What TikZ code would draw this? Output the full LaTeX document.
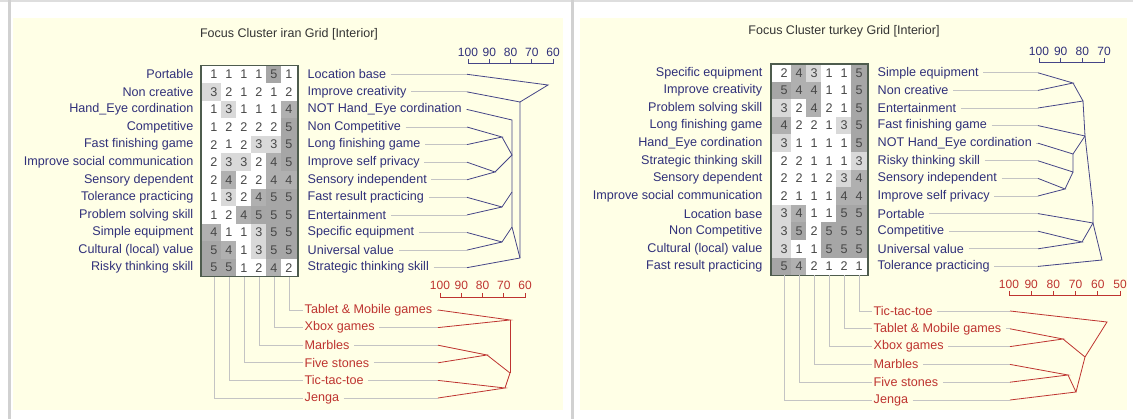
\documentclass[tikz,border=0pt]{standalone}
\usepackage{fontspec}
\setmainfont{Liberation Sans}
\usetikzlibrary{positioning}

\definecolor{cream}{RGB}{255,255,230}
\definecolor{navy}{RGB}{48,48,122}
\definecolor{brick}{RGB}{190,52,48}
\definecolor{leadgray}{RGB}{196,196,196}
\definecolor{frame}{RGB}{78,92,78}

\begin{document}
\begin{tikzpicture}[x=1pt,y=-1pt,
    every node/.append style={font=\fontsize{12.6}{14}\selectfont},
    pole/.style={text=navy,inner sep=1.5pt},
    elem/.style={text=brick,inner sep=1.5pt},
    num/.style={text=black!72,inner sep=0pt},
    lead/.style={draw=leadgray,line width=0.8pt},
    tree/.style={draw=navy!90,line width=0.8pt},
    rtree/.style={draw=brick,line width=0.8pt},
    v1/.style={fill=white}, v2/.style={fill=white}, v3/.style={fill=black!15},
    v4/.style={fill=black!31}, v5/.style={fill=black!35}]
  \tikzstyle{title} = [text=black!80,font=\fontsize{12.5}{14}\selectfont]
  \tikzstyle{scalelbl} = [inner sep=0pt,font=\fontsize{12}{14}\selectfont]

  % backdrop
  \fill[white] (0,0) rectangle (1133,419);
  \useasboundingbox (0,0) rectangle (1133,419);
  \fill[black!13] (0,0) rectangle (1133,2.5);
  \fill[black!18] (8,0) rectangle (10.5,419);
  \fill[black!18] (570.5,0) rectangle (573.5,419);
  \fill[cream] (13,18) rectangle (563,410);
  \fill[cream] (580,18) rectangle (1127,410);

  % ---------------- iran ----------------
  \node[title] (ititle) at (289,34) {Focus Cluster iran Grid [Interior]};
  \foreach \vals [count=\i] in {{1,1,1,1,5,1},{3,2,1,2,1,2},{1,3,1,1,1,4},{1,2,2,2,2,5},
      {2,1,2,3,3,5},{2,3,3,2,4,5},{2,4,2,2,4,4},{1,3,2,4,5,5},{1,2,4,5,5,5},
      {4,1,1,3,5,5},{5,4,1,3,5,5},{5,5,1,2,4,2}}
    \foreach \v [count=\j] in \vals {
      \pgfmathsetmacro\xa{\j==1 ? 201 : 206+15*(\j-1)}
      \pgfmathsetmacro\xb{\j==6 ? 298 : 206+15*\j}
      \pgfmathsetmacro\ya{65.5+17.58*(\i-1)}
      \fill[v\v] (\xa,\ya) rectangle (\xb,\ya+17.58);
      \node[num] (i-\i-\j) at (214+15*\j-15,\ya+8.79) {\v};
    }
  \draw[frame,line width=1.1pt] (201,65.5) rectangle (298,276.5);
  \foreach \txt [count=\i] in {Portable,Non creative,Hand\_Eye cordination,Competitive,
      Fast finishing game,Improve social communication,Sensory dependent,
      Tolerance practicing,Problem solving skill,Simple equipment,
      Cultural (local) value,Risky thinking skill}
    \node[pole,anchor=east] (il\i) at (195,65.5+17.58*\i-8.79) {\txt};
  \foreach \txt [count=\i] in {Location base,Improve creativity,NOT Hand\_Eye cordination,
      Non Competitive,Long finishing game,Improve self privacy,Sensory independent,
      Fast result practicing,Entertainment,Specific equipment,Universal value,
      Strategic thinking skill} {
    \node[pole,anchor=west] (ir\i) at (306,65.5+17.58*\i-8.79) {\txt};
    \coordinate (ic\i) at (467,65.5+17.58*\i-8.79);
    \draw[lead,shorten <=3pt] (ir\i.east) -- (ic\i);
  }
  \foreach \txt/\c [count=\k] in {Tablet \& Mobile games/6,Xbox games/5,Marbles/4,
      Five stones/3,Tic-tac-toe/2,Jenga/1} {
    \node[elem,anchor=west] (ie\k) at (303,310+17.6*\k-17.6) {\txt};
    \coordinate (it\k) at (214+15*\c-15,277);
    \coordinate (ix\k) at (438,310+17.6*\k-17.6);
    \draw[lead] (it\k) |- (ie\k.west);
    \draw[lead,shorten <=3pt] (ie\k.east) -- (ix\k);
  }
  % construct scale and tree
  \draw[tree] (468,59) -- (468,63) -- (553,63) -- (553,59);
  \foreach \s [count=\k] in {100,90,80,70,60} {
    \draw[tree] (468+21.25*\k-21.25,63) -- +(0,-3.5);
    \node[scalelbl,text=navy] (isc\k) at (468+21.25*\k-21.25,52) {\s};
  }
  \coordinate (ib1) at (502,137);
  \coordinate (ib2) at (495,172);
  \coordinate (ib3) at (512,155);
  \coordinate (ib4) at (502,207);
  \coordinate (ib5) at (502,242);
  \coordinate (ib6) at (512,120);
  \coordinate (ib7) at (512,192);
  \coordinate (ib8) at (512,227);
  \coordinate (ib9) at (520,102);
  \coordinate (ib10) at (520,258);
  \coordinate (ib11) at (548,85);
  \draw[tree] (ic4) -- (ib1) -- (ic5);
  \draw[tree] (ic6) -- (ib2) -- (ic7);
  \draw[tree] (ib1) -- (ib3) -- (ib2);
  \draw[tree] (ic8) -- (ib4) -- (ib7);
  \draw[tree] (ic9) -- (ib4);
  \draw[tree] (ic10) -- (ib5) -- (ib8);
  \draw[tree] (ic11) -- (ib5);
  \draw[tree] (ic3) -- (ib6) -- (ib8) -- (ib10);
  \draw[tree] (ic2) -- (ib9) -- (ib10) -- (ic12);
  \draw[tree] (ic1) -- (ib11) -- (ib9);
  % element scale and tree
  \draw[rtree] (440,293) -- (440,297) -- (525,297) -- (525,293);
  \foreach \s [count=\k] in {100,90,80,70,60} {
    \draw[rtree] (440+21.25*\k-21.25,297) -- +(0,-3.5);
    \node[scalelbl,text=brick] (iesc\k) at (440+21.25*\k-21.25,285) {\s};
  }
  \coordinate (iq1) at (510,320);
  \coordinate (iq2) at (510,373);
  \coordinate (iq3) at (487,355);
  \coordinate (iq4) at (505,388);
  \draw[rtree] (ix1) -- (iq1) -- (ix2);
  \draw[rtree] (iq1) -- (iq2);
  \draw[rtree] (ix3) -- (iq3) -- (ix4);
  \draw[rtree] (ix5) -- (iq4) -- (ix6);
  \draw[rtree] (iq3) -- (iq2) -- (iq4);

  % ---------------- turkey ----------------
  \node[title] (ttitle) at (844,31) {Focus Cluster turkey Grid [Interior]};
  \foreach \vals [count=\i] in {{2,4,3,1,1,5},{5,4,4,1,1,5},{3,2,4,2,1,5},{4,2,2,1,3,5},
      {3,1,1,1,1,5},{2,2,1,1,1,3},{2,2,1,2,3,4},{2,1,1,1,4,4},{3,4,1,1,5,5},
      {3,5,2,5,5,5},{3,1,1,5,5,5},{5,4,2,1,2,1}}
    \foreach \v [count=\j] in \vals {
      \pgfmathsetmacro\xa{\j==1 ? 771 : 776+15*(\j-1)}
      \pgfmathsetmacro\xb{\j==6 ? 868 : 776+15*\j}
      \pgfmathsetmacro\ya{64+17.6*(\i-1)}
      \fill[v\v] (\xa,\ya) rectangle (\xb,\ya+17.6);
      \node[num] (t-\i-\j) at (784+15*\j-15,\ya+8.8) {\v};
    }
  \draw[frame,line width=1.1pt] (771,64) rectangle (868,275.2);
  \foreach \txt [count=\i] in {Specific equipment,Improve creativity,Problem solving skill,
      Long finishing game,Hand\_Eye cordination,Strategic thinking skill,
      Sensory dependent,Improve social communication,Location base,
      Non Competitive,Cultural (local) value,Fast result practicing}
    \node[pole,anchor=east] (tl\i) at (764,64+17.6*\i-8.8) {\txt};
  \foreach \txt [count=\i] in {Simple equipment,Non creative,Entertainment,
      Fast finishing game,NOT Hand\_Eye cordination,Risky thinking skill,
      Sensory independent,Improve self privacy,Portable,Competitive,
      Universal value,Tolerance practicing} {
    \node[pole,anchor=west] (tr\i) at (876,64+17.6*\i-8.8) {\txt};
    \coordinate (tc\i) at (1038,64+17.6*\i-8.8);
    \draw[lead,shorten <=3pt] (tr\i.east) -- (tc\i);
  }
  \foreach \txt/\c [count=\k] in {Tic-tac-toe/6,Tablet \& Mobile games/5,Xbox games/4,
      Marbles/3,Five stones/2,Jenga/1} {
    \node[elem,anchor=west] (te\k) at (872,311+17.8*\k-17.8) {\txt};
    \coordinate (tt\k) at (784+15*\c-15,275.5);
    \coordinate (tx\k) at (1010,311+17.8*\k-17.8);
    \draw[lead] (tt\k) |- (te\k.west);
    \draw[lead,shorten <=3pt] (te\k.east) -- (tx\k);
  }
  % construct scale and tree
  \draw[tree] (1039,58) -- (1039,62) -- (1104,62) -- (1104,58);
  \foreach \s [count=\k] in {100,90,80,70} {
    \draw[tree] (1039+21.67*\k-21.67,62) -- +(0,-3.5);
    \node[scalelbl,text=navy] (tsc\k) at (1039+21.67*\k-21.67,51) {\s};
  }
  \coordinate (tb1) at (1073,83);
  \coordinate (tb2) at (1083,101);
  \coordinate (tb3) at (1085,136);
  \coordinate (tb4) at (1073,154);
  \coordinate (tb5) at (1073,172);
  \coordinate (tb6) at (1065,189);
  \coordinate (tb7) at (1082,242);
  \coordinate (tb8) at (1093,223);
  \coordinate (tb9) at (1093,207);
  \coordinate (tb10) at (1102,260);
  \draw[tree] (tc1) -- (tb1) -- (tc2);
  \draw[tree] (tb1) -- (tb2) -- (tc3);
  \draw[tree] (tb2) -- (tb3) -- (tc4);
  \draw[tree] (tc5) -- (tb4) -- (tb3);
  \draw[tree] (tc6) -- (tb5) -- (tb4);
  \draw[tree] (tc7) -- (tb6) -- (tc8);
  \draw[tree] (tb6) -- (tb5);
  \draw[tree] (tc10) -- (tb7) -- (tc11);
  \draw[tree] (tc9) -- (tb8) -- (tb7);
  \draw[tree] (tb3) -- (tb9) -- (tb8) -- (tb10) -- (tc12);
  % element scale and tree
  \draw[rtree] (1009,291) -- (1009,295) -- (1120,295) -- (1120,291);
  \foreach \s [count=\k] in {100,90,80,70,60,50} {
    \draw[rtree] (1009+22.2*\k-22.2,295) -- +(0,-3.5);
    \node[scalelbl,text=brick] (tesc\k) at (1009+22.2*\k-22.2,284) {\s};
  }
  \coordinate (tq1) at (1107,322);
  \coordinate (tq2) at (1085,357);
  \coordinate (tq3) at (1063,339);
  \coordinate (tq4) at (1068,375);
  \coordinate (tq5) at (1076,392);
  \draw[rtree] (tx1) -- (tq1) -- (tq2);
  \draw[rtree] (tx2) -- (tq3) -- (tx3);
  \draw[rtree] (tq3) -- (tq2) -- (tq5);
  \draw[rtree] (tx4) -- (tq4) -- (tx5);
  \draw[rtree] (tq4) -- (tq5) -- (tx6);
\end{tikzpicture}
\end{document}
